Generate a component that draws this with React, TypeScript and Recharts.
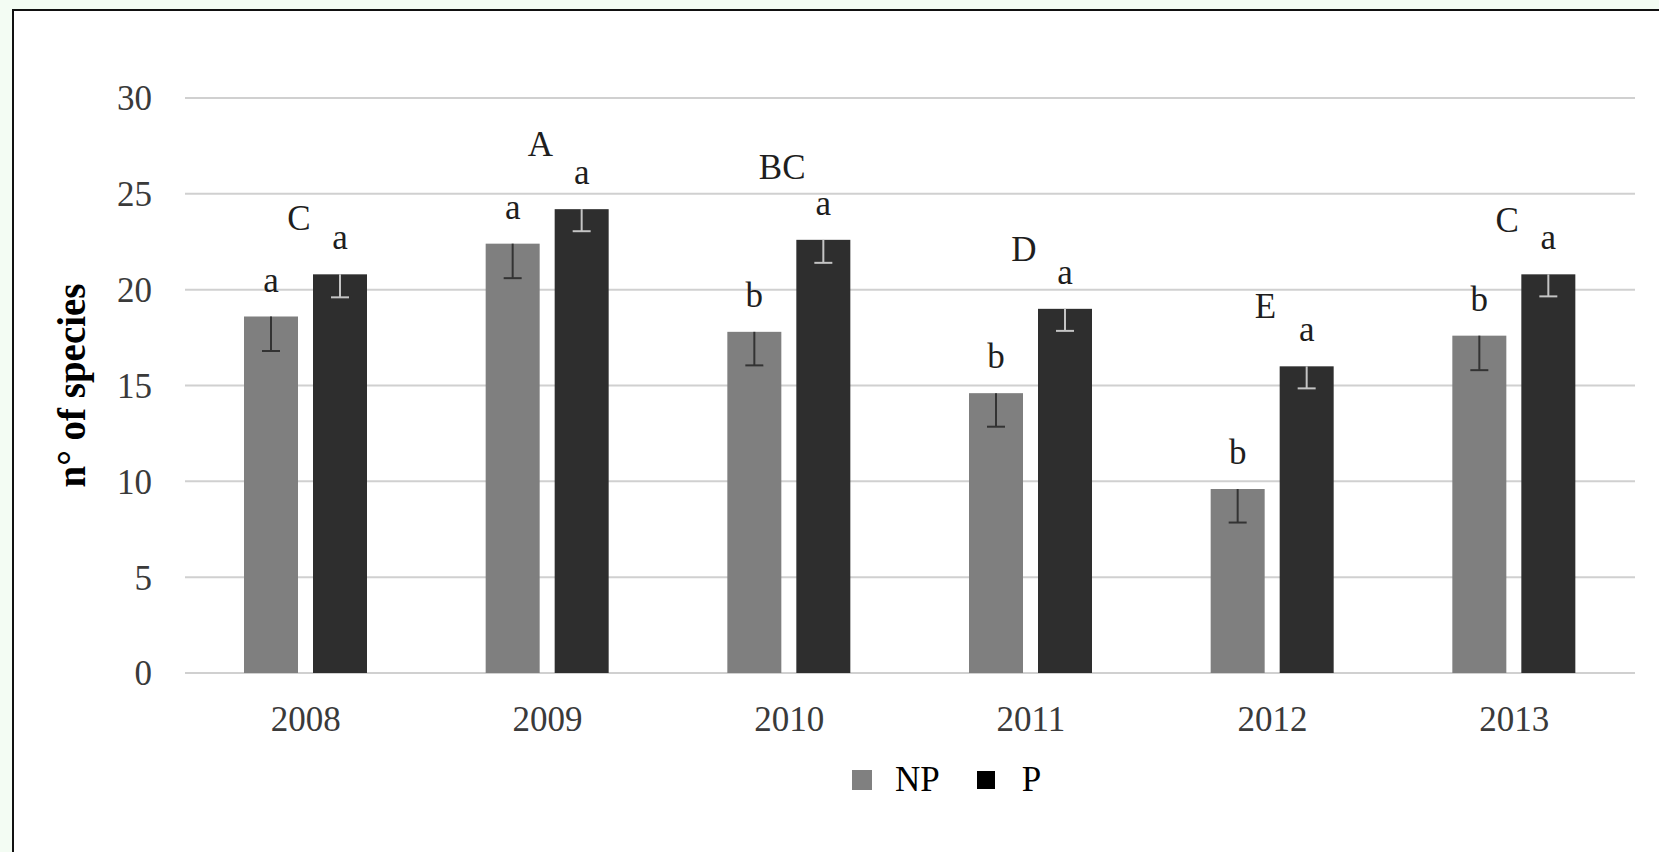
import React from 'react';
import { ComposedChart, Bar, Line, XAxis, YAxis, CartesianGrid, Legend, LabelList, Text } from 'recharts';

// values
const years = ['2008', '2009', '2010', '2011', '2012', '2013'];
const npMeans = [18.6, 22.4, 17.8, 14.6, 9.6, 17.6];
const npErrors = [1.8, 1.8, 1.75, 1.75, 1.75, 1.8];
const pMeans = [20.8, 24.2, 22.6, 19.0, 16.0, 20.8];
const pErrors = [1.2, 1.15, 1.2, 1.15, 1.15, 1.15];
const npLetters = ['a', 'a', 'b', 'b', 'b', 'b'];
const pLetters = ['a', 'a', 'a', 'a', 'a', 'a'];
const yearLetters = ['C', 'A', 'BC', 'D', 'E', 'C'];
const yearLetterAt = [23.1, 27.0, 25.8, 21.5, 18.5, 23.0];
const yTicks = [0, 5, 10, 15, 20, 25, 30];

const rows = years.map((year, i) => ({
  year,
  np: npMeans[i],
  npErr: npErrors[i],
  npLetter: npLetters[i],
  p: pMeans[i],
  pErr: pErrors[i],
  pLetter: pLetters[i],
  cap: yearLetters[i],
  capAt: yearLetterAt[i],
}));

const serif = '"Liberation Serif", "Times New Roman", serif';

// bar with a minus-only error whisker, as Excel draws it
function barWithError(valueKey: string, errKey: string, whisker: string) {
  return (props: any) => {
    const { x, y, width, height, fill, payload } = props;
    const v = payload[valueKey];
    const errPx = v ? (payload[errKey] / v) * height : 0;
    const cx = x + width / 2;
    const yEnd = y + errPx;
    return (
      <g>
        <rect x={x} y={y} width={width} height={height} fill={fill} />
        <line x1={cx} y1={y} x2={cx} y2={yEnd} stroke={whisker} strokeWidth={2} />
        <line x1={cx - 9} y1={yEnd} x2={cx + 9} y2={yEnd} stroke={whisker} strokeWidth={2} />
      </g>
    );
  };
}

const renderCap = (p: any) => {
  const x = p.x ?? p.viewBox?.x;
  const y = p.y ?? p.viewBox?.y;
  if (x == null || y == null) return null;
  return (
    <text x={Number(x) - 7} y={Number(y)} textAnchor="middle" fontFamily={serif} fontSize={35} fill="#1e1e1e">
      {p.value}
    </text>
  );
};

const legendSwatch: Record<string, { color: string; size: number; gap: number; after: number }> = {
  NP: { color: '#808080', size: 20, gap: 23, after: 37 },
  P: { color: '#000000', size: 18, gap: 27, after: 0 },
};

const renderLegend = (props: any) => {
  const items = (props.payload || []).filter((e: any) => legendSwatch[e.value]);
  return (
    <div style={{ height: 40, display: 'flex', alignItems: 'center', paddingLeft: 852, fontFamily: serif, fontSize: 35, color: '#000' }}>
      {items.map((e: any) => {
        const s = legendSwatch[e.value];
        return (
          <React.Fragment key={e.value}>
            <span style={{ display: 'inline-block', width: s.size, height: s.size, background: s.color }} />
            <span style={{ marginLeft: s.gap, marginRight: s.after, lineHeight: '40px', fontFamily: serif }}>{e.value}</span>
          </React.Fragment>
        );
      })}
    </div>
  );
};

export default function App() {
  return (
    <div style={{ position: 'absolute', left: 0, top: 0, width: 1659, height: 852, background: '#f3fcf3', overflow: 'hidden' }}>
      <div style={{ position: 'absolute', left: 12, top: 9, width: 1700, height: 900, border: '2px solid #111', background: '#fff' }} />
      <div style={{ position: 'absolute', left: 0, top: 0 }}>
        <ComposedChart
          width={1659}
          height={852}
          data={rows}
          margin={{ top: 98, right: 24, bottom: 52, left: 0 }}
          barSize={54}
          barGap={15}
        >
          <CartesianGrid vertical={false} stroke="#d0d0d0" strokeWidth={2} />
          <XAxis
            dataKey="year"
            height={87}
            axisLine={false}
            tickLine={false}
            tickSize={0}
            tickMargin={33}
            tick={{ fontFamily: serif, fontSize: 35, fill: '#3a3a3a' }}
          />
          <YAxis
            domain={[0, 30]}
            ticks={yTicks}
            width={185}
            axisLine={false}
            tickLine={false}
            tickSize={0}
            tickMargin={33}
            tick={{ fontFamily: serif, fontSize: 35, fill: '#3a3a3a' }}
            label={{
              content: (p: any) => {
                const vb = p.viewBox;
                return (
                  <Text
                    x={vb.x + 71}
                    y={vb.y + vb.height / 2}
                    angle={-90}
                    textAnchor="middle"
                    verticalAnchor="middle"
                    fontFamily={serif}
                    fontSize={39}
                    fontWeight="bold"
                    fill="#000"
                  >
                    n° of species
                  </Text>
                );
              },
            }}
          />
          <Legend verticalAlign="bottom" content={renderLegend} wrapperStyle={{ left: 0, width: 1659 }} />
          <Bar dataKey="np" name="NP" fill="#7f7f7f" isAnimationActive={false} shape={barWithError('np', 'npErr', '#333333')}>
            <LabelList dataKey="npLetter" position="top" offset={25} fontFamily={serif} fontSize={35} fill="#1e1e1e" />
          </Bar>
          <Bar dataKey="p" name="P" fill="#2e2e2e" isAnimationActive={false} shape={barWithError('p', 'pErr', '#c4c4c4')}>
            <LabelList dataKey="pLetter" position="top" offset={25} fontFamily={serif} fontSize={35} fill="#1e1e1e" />
          </Bar>
          <Line
            dataKey="capAt"
            name="group"
            stroke="none"
            dot={false}
            activeDot={false}
            legendType="none"
            isAnimationActive={false}
          >
            <LabelList dataKey="cap" content={renderCap} />
          </Line>
        </ComposedChart>
      </div>
    </div>
  );
}
